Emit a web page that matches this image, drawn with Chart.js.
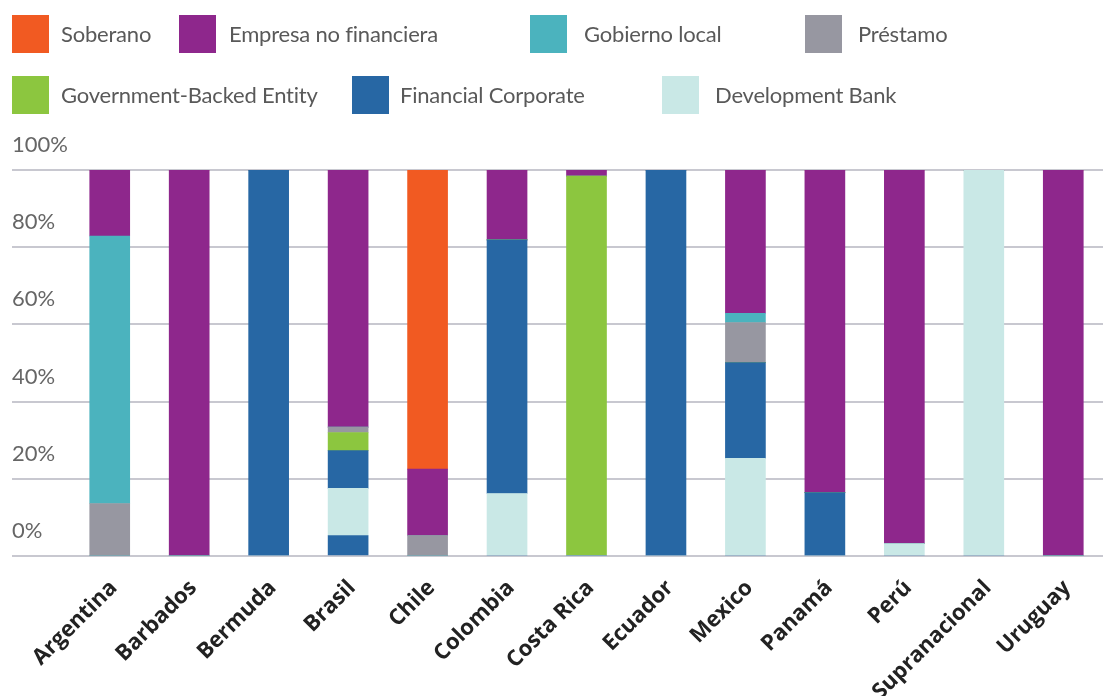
<!DOCTYPE html>
<html>
<head>
<meta charset="utf-8">
<script src="https://cdn.jsdelivr.net/npm/chart.js@4.4.1/dist/chart.umd.min.js"></script>
<style>
  html, body { margin: 0; padding: 0; background: #ffffff; }
  #wrap { position: relative; width: 1110px; height: 696px; overflow: hidden; }
  #chart { position: absolute; left: 0; top: 0; }
  .lg-box { position: absolute; width: 37px; height: 38px; }
  .lg-text { position: absolute; height: 38px; line-height: 38px; font-family: Lato, sans-serif; font-size: 22px; letter-spacing: -0.2px; color: #595959; white-space: nowrap; }
</style>
</head>
<body>
<div id="wrap">
  <canvas id="chart" width="1110" height="696"></canvas>
  <div id="legend"></div>
</div>
<script>
// ---- Data ----
const categories = ['Argentina','Barbados','Bermuda','Brasil','Chile','Colombia','Costa Rica','Ecuador','Mexico','Panamá','Perú','Supranacional','Uruguay'];

const soberano          = [0, 0, 0, 0, 77.5, 0, 0, 0, 0, 0, 0, 0, 0];
const empresaNoFin      = [17.1, 100, 0, 66.6, 17.2, 18.1, 1.6, 0, 37.1, 83.6, 96.8, 0, 100];
const gobiernoLocal     = [69.3, 0, 0, 0, 0, 0, 0, 0, 2.4, 0, 0, 0, 0];
const prestamo          = [13.6, 0, 0, 1.4, 5.3, 0, 0, 0, 10.4, 0, 0, 0, 0];
const govBacked         = [0, 0, 0, 4.7, 0, 0, 98.4, 0, 0, 0, 0, 0, 0];
const financialCorp     = [0, 0, 100, 9.8, 0, 65.7, 0, 100, 24.8, 16.4, 0, 0, 0];
const financialCorpBase = [0, 0, 0, 5.3, 0, 0, 0, 0, 0, 0, 0, 0, 0];
const developmentBank   = [0, 0, 0, 12.2, 0, 16.2, 0, 0, 25.3, 0, 3.2, 100, 0];

const yTicks = [0, 20, 40, 60, 80, 100];

const colors = {
  soberano: '#F15A22',
  empresa: '#8E278C',
  gobierno: '#4BB3BE',
  prestamo: '#9797A1',
  govBacked: '#8CC63F',
  finCorp: '#2767A4',
  devBank: '#C9E8E6'
};

// Legend (layout as in reference)
const legendItems = [
  { label: 'Soberano', color: colors.soberano, bx: 12, tx: 61, y: 15 },
  { label: 'Empresa no financiera', color: colors.empresa, bx: 179, tx: 229, y: 15 },
  { label: 'Gobierno local', color: colors.gobierno, bx: 530, tx: 584, y: 15 },
  { label: 'Préstamo', color: colors.prestamo, bx: 805, tx: 858, y: 15 },
  { label: 'Government-Backed Entity', color: colors.govBacked, bx: 12, tx: 61, y: 76 },
  { label: 'Financial Corporate', color: colors.finCorp, bx: 352, tx: 400, y: 76 },
  { label: 'Development Bank', color: colors.devBank, bx: 662, tx: 715, y: 76 }
];
const lg = document.getElementById('legend');
legendItems.forEach(it => {
  const b = document.createElement('div');
  b.className = 'lg-box';
  b.style.left = it.bx + 'px'; b.style.top = it.y + 'px'; b.style.background = it.color;
  lg.appendChild(b);
  const t = document.createElement('div');
  t.className = 'lg-text';
  t.style.left = it.tx + 'px'; t.style.top = it.y + 'px';
  t.textContent = it.label;
  lg.appendChild(t);
});

const ds = (label, data, color) => ({ label, data, backgroundColor: color, borderWidth: 0, barThickness: 40 });

new Chart(document.getElementById('chart'), {
  type: 'bar',
  data: {
    labels: categories,
    datasets: [
      ds('Financial Corporate', financialCorpBase, colors.finCorp),
      ds('Development Bank', developmentBank, colors.devBank),
      ds('Financial Corporate', financialCorp, colors.finCorp),
      ds('Government-Backed Entity', govBacked, colors.govBacked),
      ds('Préstamo', prestamo, colors.prestamo),
      ds('Gobierno local', gobiernoLocal, colors.gobierno),
      ds('Empresa no financiera', empresaNoFin, colors.empresa),
      ds('Soberano', soberano, colors.soberano)
    ]
  },
  options: {
    responsive: false,
    animation: false,
    layout: { padding: { top: 170, left: 12, right: 7, bottom: 0 } },
    plugins: { legend: { display: false }, tooltip: { enabled: false } },
    scales: {
      x: {
        stacked: true,
        grid: { display: false },
        border: { display: false },
        afterFit: (s) => { s.height = 140; },
        ticks: {
          autoSkip: false,
          minRotation: 45,
          maxRotation: 45,
          padding: 11,
          labelOffset: 4,
          color: '#222222',
          font: { family: 'Open Sans', size: 22, weight: 'bold' }
        }
      },
      y: {
        stacked: true,
        min: 0,
        max: 100,
        afterFit: (s) => { s.width = 58; },
        afterBuildTicks: (s) => { s.ticks = yTicks.map(v => ({ value: v })); },
        border: { display: false },
        grid: { color: '#C8C8D0', lineWidth: 2, drawTicks: true, tickLength: 58, tickColor: '#C8C8D0' },
        ticks: {
          crossAlign: 'far',
          labelOffset: -25,
          color: '#666666',
          font: { family: 'Lato', size: 22 },
          callback: (v) => v + '%'
        }
      }
    }
  }
});
</script>
</body>
</html>
